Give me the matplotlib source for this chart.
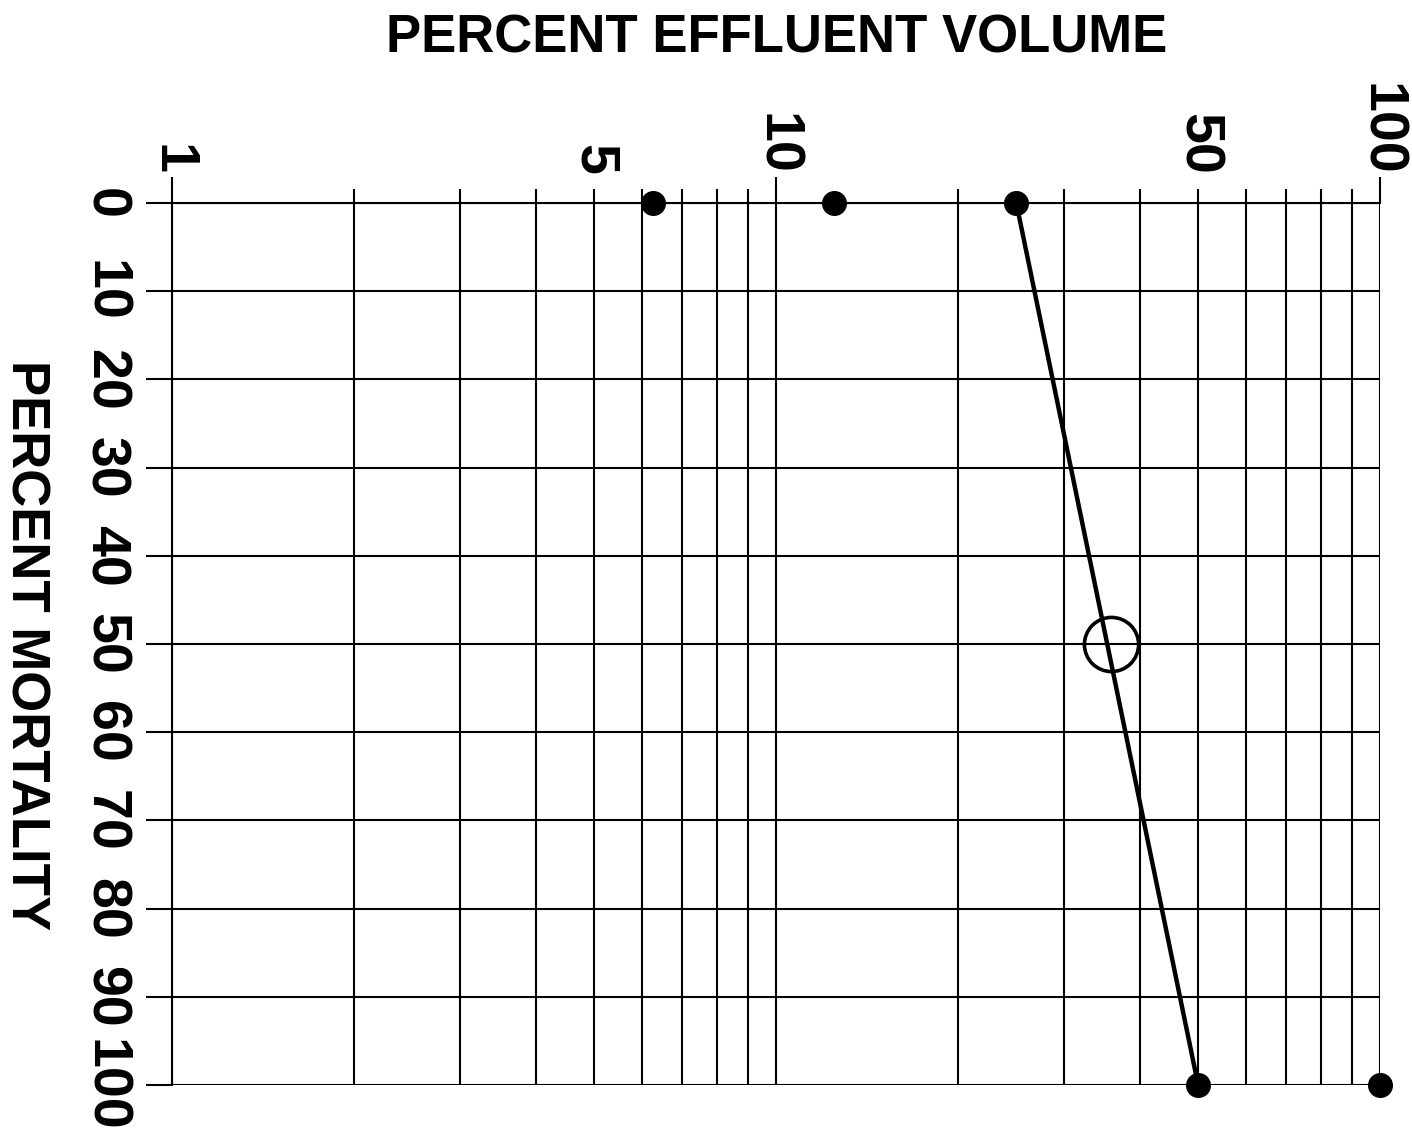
import numpy as np
import matplotlib
matplotlib.use("Agg")
from matplotlib import pyplot as plt
from matplotlib.ticker import FixedLocator, NullFormatter

plt.rcParams["font.family"] = ["Liberation Sans", "DejaVu Sans"]
plt.rcParams["font.weight"] = "bold"

# test concentrations (% effluent) and observed mortality (%)
conc = [6.25, 12.5, 25, 50, 100]
mortality = [0, 0, 0, 100, 100]

# interpolation line between highest 0% and lowest 100% concentrations
line_conc = [25, 50]
line_mort = [0, 100]

# LC50 estimate
lc50_conc = [35.9]
lc50_mort = [50]

x_major = [1, 5, 10, 50, 100]
x_labels = ["1", "5", "10", "50", "100"]
x_minor = [2, 3, 4, 6, 7, 8, 9, 20, 30, 40, 60, 70, 80, 90]
y_ticks = [0, 10, 20, 30, 40, 50, 60, 70, 80, 90, 100]

fig = plt.figure(figsize=(14.12, 11.38), dpi=100)
ax = fig.add_axes([0.1218, 0.0466, 0.9773 - 0.1218, 0.8216 - 0.0466])

ax.set_xscale("log")
ax.set_xlim(1, 100)
ax.set_ylim(100, 0)

ax.xaxis.set_major_locator(FixedLocator(x_major))
ax.set_xticklabels(x_labels)
ax.xaxis.set_minor_locator(FixedLocator(x_minor))
ax.xaxis.set_minor_formatter(NullFormatter())
ax.set_yticks(y_ticks)
ax.set_yticklabels([str(v) for v in y_ticks])

ax.xaxis.tick_top()
ax.grid(True, which="both", color="black", linewidth=1.5)
for s in ax.spines.values():
    s.set_linewidth(1.5)
ax.spines["bottom"].set_visible(False)
ax.spines["right"].set_visible(False)

ax.tick_params(axis="x", which="major", length=10, width=1.5, pad=10,
               labelsize=40, labelrotation=-90)
ax.tick_params(axis="x", which="minor", length=10, width=1.5)
ax.tick_params(axis="y", length=19, width=1.5, pad=11, labelsize=40,
               labelrotation=-90)
# long ticks at the decades
for t in ax.xaxis.get_major_ticks():
    if t.get_loc() in (1, 10, 100):
        t.tick2line.set_markersize(19)
for lab in ax.get_yticklabels():
    lab.set_va("center")

ax.plot(line_conc, line_mort, color="black", linewidth=3.2, zorder=3)
ax.plot(conc, mortality, "o", color="black", markersize=17, clip_on=False, zorder=4)
ax.plot(lc50_conc, lc50_mort, "o", markerfacecolor="none", markeredgecolor="black",
        markersize=39, markeredgewidth=2.6, zorder=4)

fig.text(0.55, 0.966, "PERCENT EFFLUENT VOLUME", ha="center", va="center",
         fontsize=38, fontweight="bold")
fig.text(0.018, 0.433, "PERCENT MORTALITY", ha="center", va="center",
         fontsize=38, fontweight="bold", rotation=-90)

fig.savefig("out.png", dpi=100)
